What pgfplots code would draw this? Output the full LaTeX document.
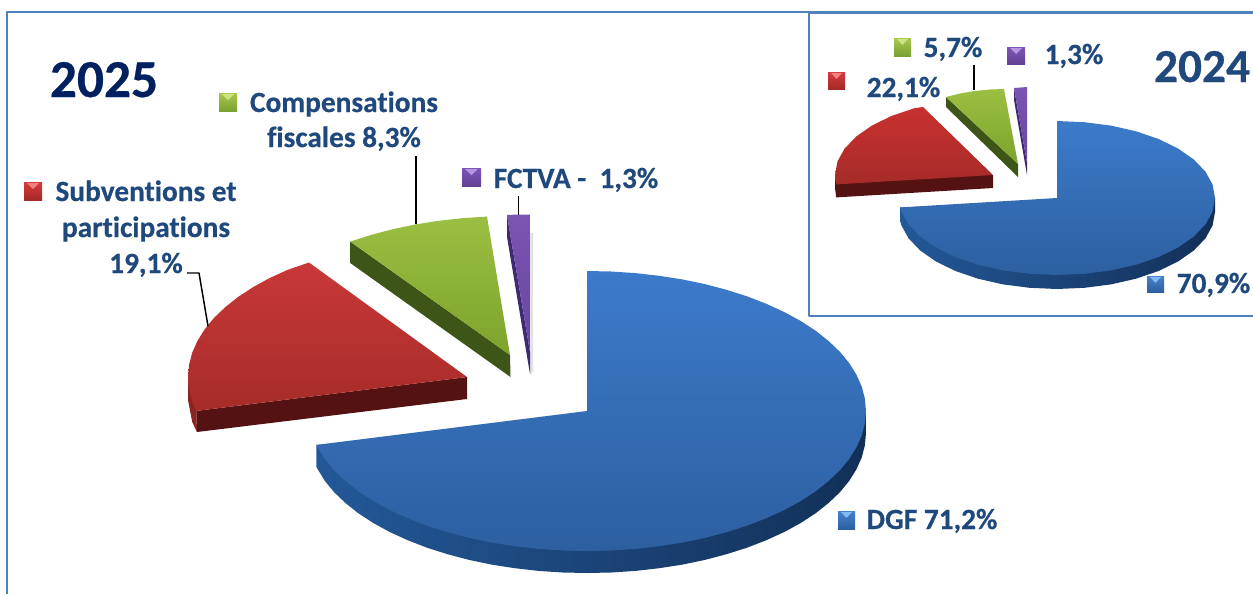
\documentclass[border=0pt]{standalone}
\usepackage{pgfplots}
\pgfplotsset{compat=1.18}
\usepackage{fontspec}
\setmainfont{Carlito}[Ligatures=NoCommon,BoldFeatures={FakeBold=0.5}]
\definecolor{lab}{HTML}{1F497D}
\definecolor{navy}{HTML}{002060}
\definecolor{frame}{HTML}{4F81BD}
\newcommand{\lab}[3]{\node[anchor=base,inner sep=0pt,text=lab,font=\fontsize{22}{26}\selectfont\bfseries] at (axis cs:#1,#2) {#3};}
\newcommand{\legmark}[7]{% x0,y0,x1,y1,top,bottom,notch
  \addplot[draw=none,top color=#5,bottom color=#6] coordinates {(#1,#2)(#3,#2)(#3,#4)(#1,#4)};
  \addplot[draw=none,fill=#7] coordinates {(#1+3,#2+1)(#3-3,#2+1)(#1/2+#3/2,#2+7)};
}
\begin{document}
\begin{tikzpicture}
\path[use as bounding box] (0,0) rectangle (939.75pt,445.5pt);
\begin{axis}[
  at={(0,0)},anchor=south west,
  scale only axis,width=939.75pt,height=445.5pt,
  xmin=0,xmax=1253,ymin=0,ymax=594,y dir=reverse,
  hide axis,no markers,
  every axis plot/.append style={forget plot,line join=round}]
% outer frame
\addplot[frame,line width=1.5pt] coordinates {(7,594)(7,12)(1253,12)};
% ===== 2025 =====
% DGF side
\addplot[draw=none,left color={rgb,255:red,35;green,88;blue,152},middle color={rgb,255:red,29;green,78;blue,138},right color={rgb,255:red,18;green,48;blue,88}] coordinates {
(866,411)(866,433)(864.9,445.2)(861.8,457.3)(856.5,469.2)(849.2,480.9)(839.9,492.2)(828.6,503)(815.6,513.3)(800.7,523)(784.3,532)(766.3,540.2)(747,547.7)(726.5,554.2)(704.9,559.9)(682.4,564.6)(659.2,568.2)(635.4,570.9)(611.3,572.5)(587,573)(562.7,572.5)(538.6,570.9)(514.8,568.2)(491.6,564.6)(469.1,559.9)(447.5,554.2)(427,547.7)(407.7,540.2)(389.7,532)(373.3,523)(358.4,513.3)(345.4,503)(334.1,492.2)(324.8,480.9)(316.3,466.9)(316.3,444.9)};
% DGF top
\addplot[draw=none,top color={rgb,255:red,60;green,123;blue,202},bottom color={rgb,255:red,45;green,95;blue,160}] coordinates {
(587,411)(587,271)(611.3,271.5)(635.4,273.1)(659.2,275.8)(682.4,279.4)(704.9,284.1)(726.5,289.8)(747,296.3)(766.3,303.8)(784.3,312)(800.7,321)(815.6,330.7)(828.6,341)(839.9,351.8)(849.2,363.1)(856.5,374.8)(861.8,386.7)(864.9,398.8)(866,411)(864.9,423.2)(861.8,435.3)(856.5,447.2)(849.2,458.9)(839.9,470.2)(828.6,481)(815.6,491.3)(800.7,501)(784.3,510)(766.3,518.2)(747,525.7)(726.5,532.2)(704.9,537.9)(682.4,542.6)(659.2,546.2)(635.4,548.9)(611.3,550.5)(587,551)(562.7,550.5)(538.6,548.9)(514.8,546.2)(491.6,542.6)(469.1,537.9)(447.5,532.2)(427,525.7)(407.7,518.2)(389.7,510)(373.3,501)(358.4,491.3)(345.4,481)(334.1,470.2)(324.8,458.9)(316.3,444.9)};
% Subventions side
\addplot[draw=none,fill={rgb,255:red,140;green,36;blue,34}] coordinates {(188,377)(188,400)(192.2,422)(197,432)(196.3,410.9)};
\addplot[draw=none,fill={rgb,255:red,84;green,18;blue,18}] coordinates {(196.3,410.9)(197,432)(467,399)(467,377)};
% Subventions top
\addplot[draw=none,top color={rgb,255:red,200;green,56;blue,56},bottom color={rgb,255:red,166;green,44;blue,40}] coordinates {
(467,377)(196.3,410.9)(192.2,401.3)(189.1,389.2)(188,377)(189.1,364.8)(192.2,352.7)(197.5,340.8)(204.8,329.1)(214.1,317.8)(225.4,307)(238.4,296.7)(253.3,287)(269.7,278)(287.7,269.8)(309,262.5)};
% Compensations side
\addplot[draw=none,fill={rgb,255:red,62;green,85;blue,24}] coordinates {(350.2,241.6)(350.2,263)(510.5,377)(510,355)};
% Compensations top
\addplot[draw=none,top color={rgb,255:red,155;green,191;blue,66},bottom color={rgb,255:red,124;green,163;blue,44}] coordinates {
(510,355)(350.2,241.6)(371.5,234.8)(393.1,229.1)(415.6,224.4)(438.8,220.8)(462.6,218.1)(487,216.6)};
% FCTVA
\addplot[draw=none,fill={rgb,255:red,226;green,226;blue,232}] coordinates {(530,233)(533,233)(533,372)(530,374)};
\addplot[draw=none,fill={rgb,255:red,62;green,42;blue,112}] coordinates {(507,215)(507,237)(530,374)(530,352)};
\addplot[draw=none,top color={rgb,255:red,124;green,84;blue,178},bottom color={rgb,255:red,104;green,70;blue,158}] coordinates {(507,215)(518,214.5)(530,214.5)(530,352)};
% leaders
\addplot[black,line width=1.1pt] coordinates {(416,156)(416,224)};
\addplot[black,line width=1.1pt] coordinates {(518.6,196)(518.6,215)};
\addplot[black,line width=1.1pt] coordinates {(187,273)(199,273)(208,326)};
% ===== 2024 inset =====
\addplot[draw=none,fill=white] coordinates {(809,13)(1253,13)(1253,316)(809,316)};
\addplot[frame,line width=2pt] coordinates {(809,13)(1253,13)};
\addplot[frame,line width=1.5pt] coordinates {(809,13)(809,316)(1253,316)};
% DGF side
\addplot[draw=none,left color={rgb,255:red,35;green,88;blue,152},middle color={rgb,255:red,29;green,78;blue,138},right color={rgb,255:red,18;green,48;blue,88}] coordinates {
(1215,198)(1215,212)(1212.6,225.4)(1205.5,238.3)(1193.8,250.5)(1178,261.5)(1158.6,271)(1136,278.7)(1111,284.4)(1084.4,287.8)(1057,289)(1029.6,287.8)(1003,284.4)(978,278.7)(955.4,271)(936,261.5)(920.2,250.5)(908.5,238.3)(901.4,225.4)(900.2,221.4)(900.2,207.4)};
% DGF top
\addplot[draw=none,top color={rgb,255:red,60;green,123;blue,202},bottom color={rgb,255:red,45;green,95;blue,160}] coordinates {
(1057,198)(1057,121)(1084.4,122.2)(1111,125.6)(1136,131.3)(1158.6,139)(1178,148.5)(1193.8,159.5)(1205.5,171.7)(1212.6,184.6)(1215,198)(1212.6,211.4)(1205.5,224.3)(1193.8,236.5)(1178,247.5)(1158.6,257)(1136,264.7)(1111,270.4)(1084.4,273.8)(1057,275)(1029.6,273.8)(1003,270.4)(978,264.7)(955.4,257)(936,247.5)(920.2,236.5)(908.5,224.3)(901.4,211.4)(900.2,207.4)};
% red
\addplot[draw=none,fill={rgb,255:red,84;green,18;blue,18}] coordinates {(835,175)(835,188)(836.2,197.4)(993,188)(993,175)};
\addplot[draw=none,top color={rgb,255:red,200;green,48;blue,48},bottom color={rgb,255:red,166;green,44;blue,40}] coordinates {
(993,175)(836.2,184.4)(835,175)(837.4,161.6)(844.5,148.7)(856.2,136.5)(872,125.5)(891.4,116)(914,108.3)(923,107)};
% green
\addplot[draw=none,fill={rgb,255:red,62;green,85;blue,24}] coordinates {(946,97)(946,107)(1018,177)(1018,164)};
\addplot[draw=none,top color={rgb,255:red,155;green,191;blue,66},bottom color={rgb,255:red,124;green,163;blue,44}] coordinates {
(1018,164)(946,97)(960,93.5)(975,91)(990,89.5)(1004,89)};
% purple
\addplot[draw=none,fill={rgb,255:red,62;green,42;blue,112}] coordinates {(1014,88)(1014,100)(1027,175)(1027,163)};
\addplot[draw=none,top color={rgb,255:red,124;green,84;blue,178},bottom color={rgb,255:red,104;green,70;blue,158}] coordinates {(1014,88)(1027,87)(1027,163)};
\addplot[black,line width=1.1pt] coordinates {(974,65)(974,90)};
% legend keys
\legmark{24}{182}{42}{200}{{rgb,255:red,214;green,60;blue,60}}{{rgb,255:red,165;green,40;blue,40}}{{rgb,255:red,240;green,130;blue,130}}
\legmark{219}{93}{237}{111}{{rgb,255:red,170;green,200;blue,80}}{{rgb,255:red,120;green,160;blue,50}}{{rgb,255:red,205;green,228;blue,130}}
\legmark{462}{168}{481}{186}{{rgb,255:red,125;green,85;blue,180}}{{rgb,255:red,100;green,65;blue,150}}{{rgb,255:red,180;green,150;blue,225}}
\legmark{838}{511}{855}{529}{{rgb,255:red,70;green,130;blue,205}}{{rgb,255:red,45;green,95;blue,160}}{{rgb,255:red,130;green,185;blue,240}}
\legmark{894}{38}{911}{56}{{rgb,255:red,170;green,200;blue,80}}{{rgb,255:red,120;green,160;blue,50}}{{rgb,255:red,205;green,228;blue,130}}
\legmark{1007}{47}{1025}{64}{{rgb,255:red,125;green,85;blue,180}}{{rgb,255:red,100;green,65;blue,150}}{{rgb,255:red,180;green,150;blue,225}}
\legmark{828}{72}{845}{89}{{rgb,255:red,214;green,60;blue,60}}{{rgb,255:red,165;green,40;blue,40}}{{rgb,255:red,240;green,130;blue,130}}
\legmark{1147}{276}{1164}{292}{{rgb,255:red,70;green,130;blue,205}}{{rgb,255:red,45;green,95;blue,160}}{{rgb,255:red,130;green,185;blue,240}}
% texts
\node[anchor=base,inner sep=0pt,text=navy,font=\fontsize{40}{44}\selectfont\bfseries] at (axis cs:104,97) {2025};
\node[anchor=base,inner sep=0pt,text=lab,font=\fontsize{35.5}{40}\selectfont\bfseries] at (axis cs:1202,82) {2024};
\lab{344}{112}{Compensations}
\lab{344}{147}{fiscales 8,3\%}
\lab{146}{201}{Subventions et}
\lab{146}{237}{participations}
\lab{146}{273}{19,1\%}
\lab{576}{188}{FCTVA -\ \ 1,3\%}
\lab{932}{529}{DGF 71,2\%}
\lab{953}{57}{5,7\%}
\lab{1074}{64}{1,3\%}
\lab{903.5}{97}{22,1\%}
\lab{1213.5}{293}{70,9\%}
\end{axis}
\end{tikzpicture}
\end{document}
